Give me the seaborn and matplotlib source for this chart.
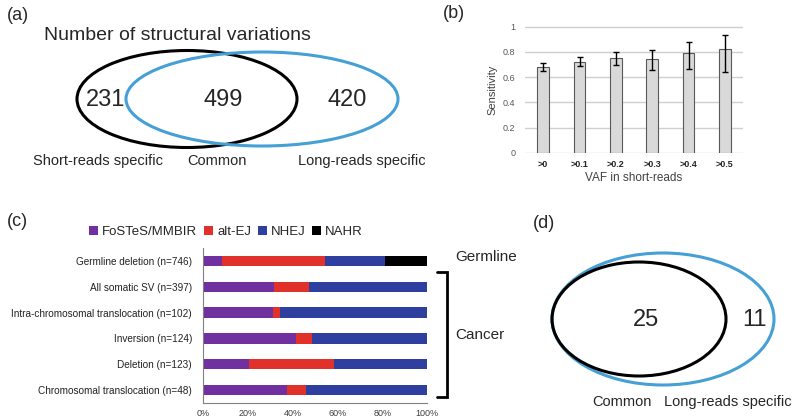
import numpy as np
import pandas as pd
import matplotlib
matplotlib.use("Agg")
import matplotlib.pyplot as plt
from matplotlib.patches import Ellipse, Patch
import seaborn as sns

# ---- data ----
venn_a_counts = [231, 499, 420]
venn_a_labels = ["Short-reads specific", "Common", "Long-reads specific"]

vaf_labels = [">0", ">0.1", ">0.2", ">0.3", ">0.4", ">0.5"]
sensitivity = [0.68, 0.72, 0.755, 0.743, 0.79, 0.825]
err_low = [0.033, 0.034, 0.055, 0.083, 0.125, 0.186]
err_high = [0.035, 0.039, 0.043, 0.074, 0.087, 0.112]

sv_types = ["Germline deletion (n=746)", "All somatic SV (n=397)",
            "Intra-chromosomal translocation (n=102)", "Inversion (n=124)",
            "Deletion (n=123)", "Chromosomal translocation (n=48)"]
fostes = [8.7, 31.6, 31.3, 41.3, 20.6, 37.6]
alt_ej = [45.8, 15.9, 3.0, 7.2, 38.1, 8.2]
nhej = [26.8, 52.5, 65.7, 51.5, 41.3, 54.2]
nahr = [18.7, 0, 0, 0, 0, 0]
mech_names = ["FoSTeS/MMBIR", "alt-EJ", "NHEJ", "NAHR"]
mech_colors = ["#7030a0", "#e0312a", "#2f3f9f", "#000000"]

venn_d_counts = [25, 11]
venn_d_labels = ["Common", "Long-reads specific"]

sns.set_theme(style="white")
plt.rcParams["font.family"] = ["Liberation Sans", "DejaVu Sans"]

fig = plt.figure(figsize=(8, 4.2), dpi=100)

# overlay in pixel coords for venns and panel text
ov = fig.add_axes([0, 0, 1, 1])
ov.set_xlim(0, 800)
ov.set_ylim(420, 0)
ov.axis("off")
ov.patch.set_alpha(0)

blue = "#45a0d5"

# (a)
ov.text(7, 16, "(a)", fontsize=13, va="center", ha="left")
ov.text(177, 35, "Number of structural variations", fontsize=14, va="center", ha="center")
ov.add_patch(Ellipse((187, 99), 220, 97, fill=False, ec="black", lw=2.2))
ov.add_patch(Ellipse((262, 99), 272, 94, fill=False, ec=blue, lw=2.2))
for x, n in zip([106, 223, 347], venn_a_counts):
    ov.text(x, 100, str(n), fontsize=17, ha="center", va="center")
for x, lab in zip([98, 217, 362], venn_a_labels):
    ov.text(x, 161, lab, fontsize=10.5, ha="center", va="center")

# (b)
ov.text(443, 13, "(b)", fontsize=13, va="center", ha="left")
axb = fig.add_axes([525 / 800, 1 - 153 / 420, 218 / 800, 127 / 420])
df_b = pd.DataFrame({"vaf": vaf_labels, "sens": sensitivity})
sns.barplot(data=df_b, x="vaf", y="sens", ax=axb, color="#d9d9d9",
            edgecolor="#595959", linewidth=0.8, width=0.33,
            errorbar=None, saturation=1, zorder=3)
axb.errorbar(np.arange(len(vaf_labels)), sensitivity, yerr=[err_low, err_high],
             fmt="none", ecolor="black", capsize=2, elinewidth=1, capthick=1, zorder=4)
axb.set_ylim(0, 1.005)
axb.set_xlim(-0.5, 5.5)
axb.set_yticks([0, 0.2, 0.4, 0.6, 0.8, 1])
axb.set_yticklabels(["0", "0.2", "0.4", "0.6", "0.8", "1"])
axb.yaxis.grid(True, color="#d0d0d0", linewidth=1.0, linestyle="-")
axb.set_axisbelow(True)
for s in axb.spines.values():
    s.set_visible(False)
axb.tick_params(axis="y", labelsize=6.5, labelcolor="#595959", length=0, pad=7)
axb.tick_params(axis="x", labelsize=6.5, length=0, pad=5)
for t in axb.get_xticklabels():
    t.set_fontweight("bold")
axb.set_xlabel("VAF in short-reads", fontsize=8.5, color="#404040", labelpad=2)
axb.set_ylabel("Sensitivity", fontsize=8, color="#404040", labelpad=4)

# (c)
ov.text(7, 222, "(c)", fontsize=13, va="center", ha="left")
axc = fig.add_axes([203 / 800, 1 - 403 / 420, 224 / 800, 155 / 420])
c1 = np.array(fostes)
c2 = c1 + np.array(alt_ej)
c3 = c2 + np.array(nhej)
c4 = c3 + np.array(nahr)
for cum, col in zip([c4, c3, c2, c1], mech_colors[::-1]):
    sns.barplot(x=cum, y=sv_types, orient="h", color=col, width=0.4,
                saturation=1, ax=axc, errorbar=None, linewidth=0)
axc.set_xlim(0, 100)
axc.set_ylim(5.5, -0.5)
axc.set_xticks([0, 20, 40, 60, 80, 100])
axc.set_xticklabels([f"{v}%" for v in range(0, 101, 20)])
axc.set_xlabel("")
axc.set_ylabel("")
axc.tick_params(axis="x", labelsize=6.5, length=0, pad=4, labelcolor="#404040")
axc.tick_params(axis="y", labelsize=7.2, length=0, pad=8, labelcolor="#222222")
for k in ["top", "right"]:
    axc.spines[k].set_visible(False)
for k in ["left", "bottom"]:
    axc.spines[k].set_color("#808080")
    axc.spines[k].set_linewidth(0.8)

handles = [Patch(facecolor=c, edgecolor="none") for c in mech_colors]
fig.legend(handles, mech_names, loc="center", bbox_to_anchor=(226 / 800, 1 - 232 / 420),
           ncol=4, frameon=False, fontsize=9.5, handlelength=0.7, handleheight=0.7,
           handletextpad=0.3, columnspacing=0.5)

# bracket
ov.text(455, 257, "Germline", fontsize=11, ha="left", va="center")
ov.text(455, 335, "Cancer", fontsize=11, ha="left", va="center")
ov.plot([437, 447, 447, 437], [272, 272, 397, 397], color="black", lw=2,
        solid_joinstyle="miter")

# (d)
ov.text(533, 223, "(d)", fontsize=13, va="center", ha="left")
ov.add_patch(Ellipse((663, 319), 222, 132, fill=False, ec=blue, lw=2.2))
ov.add_patch(Ellipse((639, 319), 174, 114, fill=False, ec="black", lw=2.2))
for x, n in zip([646, 755], venn_d_counts):
    ov.text(x, 320, str(n), fontsize=17, ha="center", va="center")
for x, lab in zip([622, 728], venn_d_labels):
    ov.text(x, 402, lab, fontsize=10.5, ha="center", va="center")

fig.savefig("out.png", dpi=100)
